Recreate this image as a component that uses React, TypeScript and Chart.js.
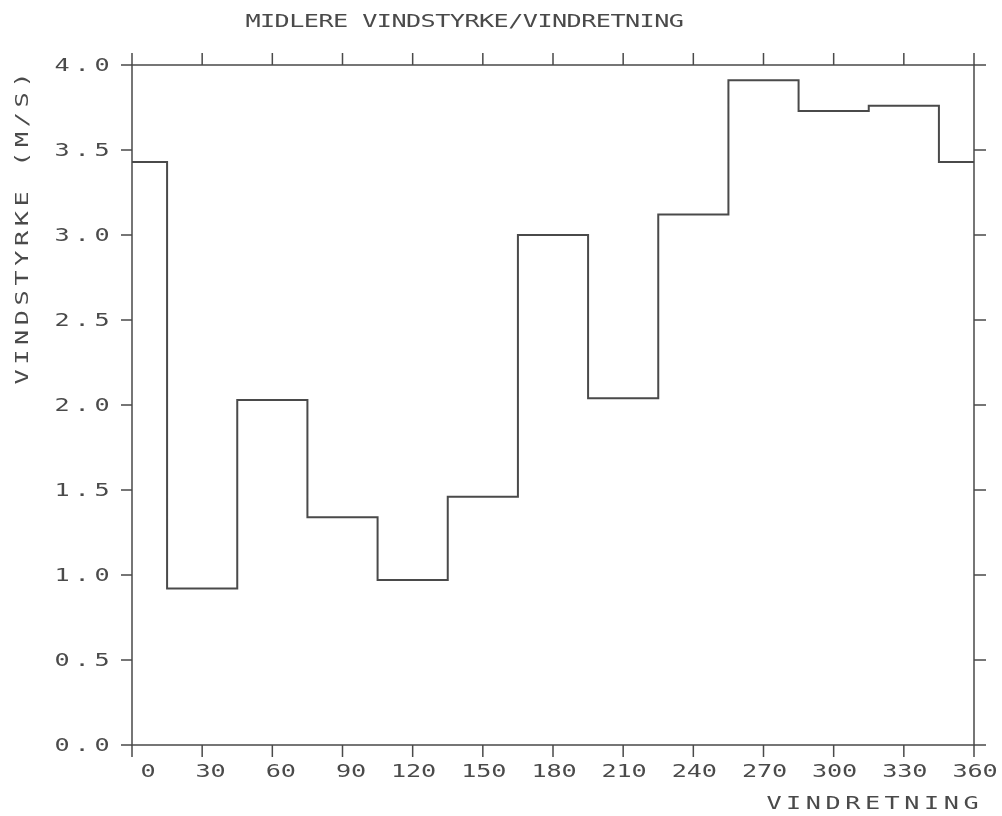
import React, { useEffect, useRef } from "react";
import { Chart, registerables } from "chart.js";

Chart.register(...registerables);

const directions = [0, 30, 60, 90, 120, 150, 180, 210, 240, 270, 300, 330, 360];
const windSpeed = [3.43, 0.92, 2.03, 1.34, 0.97, 1.46, 3.0, 2.04, 3.12, 3.91, 3.73, 3.76, 3.43];
const xTickValues = [0, 30, 60, 90, 120, 150, 180, 210, 240, 270, 300, 330, 360];
const xTickLabels = ["0", "30", "60", "90", "120", "150", "180", "210", "240", "270", "300", "330", "360"];
const yTickValues = [0, 0.5, 1, 1.5, 2, 2.5, 3, 3.5, 4];
const yTickLabels = ["0.0", "0.5", "1.0", "1.5", "2.0", "2.5", "3.0", "3.5", "4.0"];
const titleText = "MIDLERE VINDSTYRKE/VINDRETNING";
const xTitleText = "VINDRETNING";
const yTitleText = "VINDSTYRKE (M/S)";

const INK = "#4a4a4a";
const FONT = "18px 'DejaVu Sans Mono'";
const SX = 1.4;

function drawChars(ctx: CanvasRenderingContext2D, text: string, firstCenter: number, pitch: number, y: number) {
  for (let i = 0; i < text.length; i++) {
    const ch = text[i];
    if (ch === " ") continue;
    ctx.save();
    ctx.translate(firstCenter + i * pitch, y);
    ctx.scale(SX, 1);
    ctx.fillText(ch, 0, 0);
    ctx.restore();
  }
}

const framePlugin = {
  id: "plotterFrame",
  afterDraw(chart: any) {
    const ctx: CanvasRenderingContext2D = chart.ctx;
    const { left, right, top, bottom } = chart.chartArea;
    const xs = chart.scales.x;
    const ys = chart.scales.y;
    ctx.save();
    ctx.strokeStyle = INK;
    ctx.lineWidth = 1.5;
    ctx.beginPath();
    ctx.rect(left, top, right - left, bottom - top);
    ctx.stroke();
    // ticks
    ctx.beginPath();
    xTickValues.forEach((v) => {
      const px = xs.getPixelForValue(v);
      ctx.moveTo(px, top - 12);
      ctx.lineTo(px, top);
      ctx.moveTo(px, bottom);
      ctx.lineTo(px, bottom + 12);
    });
    yTickValues.forEach((v) => {
      const py = ys.getPixelForValue(v);
      ctx.moveTo(left - 11, py);
      ctx.lineTo(left, py);
      ctx.moveTo(right, py);
      ctx.lineTo(right + 12, py);
    });
    ctx.stroke();

    ctx.fillStyle = INK;
    ctx.font = FONT;
    ctx.textAlign = "center";
    ctx.textBaseline = "middle";

    const xPitch = 15;
    xTickValues.forEach((v, i) => {
      const px = xs.getPixelForValue(v);
      const t = xTickLabels[i];
      const last = px + 16;
      drawChars(ctx, t, last - (t.length - 1) * xPitch, xPitch, 772);
    });
    const yPitch = 20;
    yTickValues.forEach((v, i) => {
      const py = ys.getPixelForValue(v);
      const t = yTickLabels[i];
      const last = left - 30;
      drawChars(ctx, t, last - (t.length - 1) * yPitch, yPitch, py + 1);
    });
    drawChars(ctx, titleText, 253, 14.6, 22);
    drawChars(ctx, xTitleText, 774, 19.7, 804);
    ctx.save();
    ctx.translate(23, 383);
    ctx.rotate(-Math.PI / 2);
    drawChars(ctx, yTitleText, 6, 19.8, 0);
    ctx.restore();
    ctx.restore();
  },
};

export default function App() {
  const canvasRef = useRef<HTMLCanvasElement | null>(null);
  useEffect(() => {
    if (!canvasRef.current) return;
    const chart = new Chart(canvasRef.current, {
      type: "line",
      data: {
        datasets: [
          {
            data: directions.map((d, i) => ({ x: d, y: windSpeed[i] })),
            stepped: "middle",
            borderColor: "#4a4a4a",
            borderWidth: 2,
            pointRadius: 0,
            fill: false,
          },
        ],
      },
      options: {
        responsive: false,
        animation: false,
        devicePixelRatio: 1,
        layout: { padding: { left: 132, right: 28, top: 65, bottom: 71 } },
        plugins: { legend: { display: false }, tooltip: { enabled: false }, title: { display: false } },
        scales: {
          x: { type: "linear", min: 0, max: 360, display: false },
          y: { type: "linear", min: 0, max: 4, display: false },
        },
      },
      plugins: [framePlugin],
    } as any);
    return () => chart.destroy();
  }, []);
  return (
    <div style={{ position: "fixed", left: 0, top: 0, width: 1002, height: 816, background: "#fff" }}>
      <canvas ref={canvasRef} width={1002} height={816} />
    </div>
  );
}
